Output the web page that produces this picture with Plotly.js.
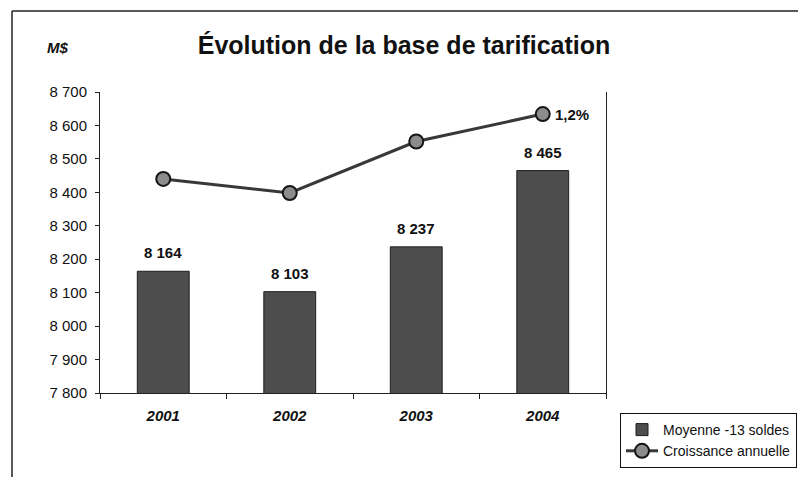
<!DOCTYPE html>
<html>
<head>
<meta charset="utf-8">
<script src="https://cdn.plot.ly/plotly-3.0.1.min.js"></script>
<style>
  html, body { margin: 0; padding: 0; background: #fff; }
  #chart { width: 798px; height: 477px; }
</style>
</head>
<body>
<div id="chart"></div>
<script>
// ---- Data ----
const years = ['2001', '2002', '2003', '2004'];
const moyenne13Soldes = [8164, 8103, 8237, 8465];          // bars (M$)
const barLabels = ['8 164', '8 103', '8 237', '8 465'];
const croissanceAnnuelle = [8440, 8398, 8552, 8634];       // line, plotted on the same scale
const croissanceLabel = '1,2%';                            // only label shown (last point)
const yTicks = [7800, 7900, 8000, 8100, 8200, 8300, 8400, 8500, 8600, 8700];

const FONT = 'Liberation Sans, Arial, Helvetica, sans-serif';

const traces = [
  {
    type: 'bar',
    name: 'Moyenne -13 soldes',
    x: years,
    y: moyenne13Soldes,
    width: 0.41,
    marker: { color: '#4d4d4d', line: { color: '#1e1e1e', width: 1 } },
    hoverinfo: 'skip'
  },
  {
    type: 'scatter',
    mode: 'lines+markers',
    name: 'Croissance annuelle',
    x: years,
    y: croissanceAnnuelle,
    line: { color: '#383838', width: 3 },
    marker: { size: 14, color: '#8c8c8c', line: { color: '#151515', width: 2 } },
    hoverinfo: 'skip'
  }
];

// bar value labels, placed by category index on the category axis
const annotations = years.map((yr, i) => ({
  x: i, y: moyenne13Soldes[i], xref: 'x', yref: 'y',
  text: barLabels[i], showarrow: false,
  xanchor: 'center', yanchor: 'bottom', yshift: 8,
  font: { family: FONT, size: 15, color: '#111', weight: 'bold' }
}));
annotations.push({
  x: years.length - 1, y: croissanceAnnuelle[croissanceAnnuelle.length - 1],
  xref: 'x', yref: 'y', text: croissanceLabel, showarrow: false,
  xanchor: 'left', yanchor: 'middle', xshift: 10,
  font: { family: FONT, size: 15, color: '#111', weight: 'bold' }
});
annotations.push({
  x: (57 - 100) / 506, y: (393 - 47) / 301, xref: 'paper', yref: 'paper',
  xanchor: 'center', yanchor: 'middle',
  text: 'M$', showarrow: false,
  font: { family: FONT, size: 15, color: '#111', weight: 'bold', style: 'italic' }
});

const layout = {
  width: 798,
  height: 477,
  paper_bgcolor: '#ffffff',
  plot_bgcolor: '#ffffff',
  margin: { l: 100, r: 192, t: 92, b: 84, autoexpand: false },
  separators: ', ',
  showlegend: true,
  bargap: 0.59,
  title: {
    text: 'Évolution de la base de tarification',
    xref: 'paper', x: (404 - 100) / 506, xanchor: 'center',
    yref: 'container', y: 1 - 45 / 477, yanchor: 'middle',
    font: { family: FONT, size: 25, color: '#111', weight: 'bold' }
  },
  xaxis: {
    type: 'category',
    range: [-0.5, 3.5],
    showline: true, linecolor: '#222', linewidth: 1,
    ticks: 'outside', tickson: 'boundaries', ticklen: 5, tickcolor: '#222',
    showgrid: false, zeroline: false,
    ticklabelstandoff: 9,
    tickfont: { family: FONT, size: 15, color: '#111', weight: 'bold', style: 'italic' },
    fixedrange: true
  },
  yaxis: {
    range: [7800, 8700],
    tickvals: yTicks,
    tickformat: ',d',
    showline: true, mirror: true, linecolor: '#222', linewidth: 1,
    ticks: 'outside', ticklen: 4, tickcolor: '#222',
    showgrid: false, zeroline: false,
    ticklabelstandoff: 5,
    tickfont: { family: FONT, size: 15, color: '#111' },
    fixedrange: true
  },
  legend: {
    x: (620 - 100) / 506, xanchor: 'left',
    y: (393 - 413) / 301, yanchor: 'top',
    bgcolor: '#ffffff', bordercolor: '#111', borderwidth: 1,
    font: { family: FONT, size: 14, color: '#111' },
    itemwidth: 32,
    tracegroupgap: 0
  },
  annotations: annotations,
  shapes: [
    { type: 'line', xref: 'paper', yref: 'paper',
      x0: (12 - 100) / 506, x1: (810 - 100) / 506,
      y0: (393 - 11) / 301, y1: (393 - 11) / 301,
      line: { color: '#222', width: 1.5 } },
    { type: 'line', xref: 'paper', yref: 'paper',
      x0: (12 - 100) / 506, x1: (12 - 100) / 506,
      y0: (393 - 11) / 301, y1: (393 - 490) / 301,
      line: { color: '#222', width: 1.5 } }
  ]
};

Plotly.newPlot('chart', traces, layout, { displayModeBar: false, staticPlot: true });
</script>
</body>
</html>
